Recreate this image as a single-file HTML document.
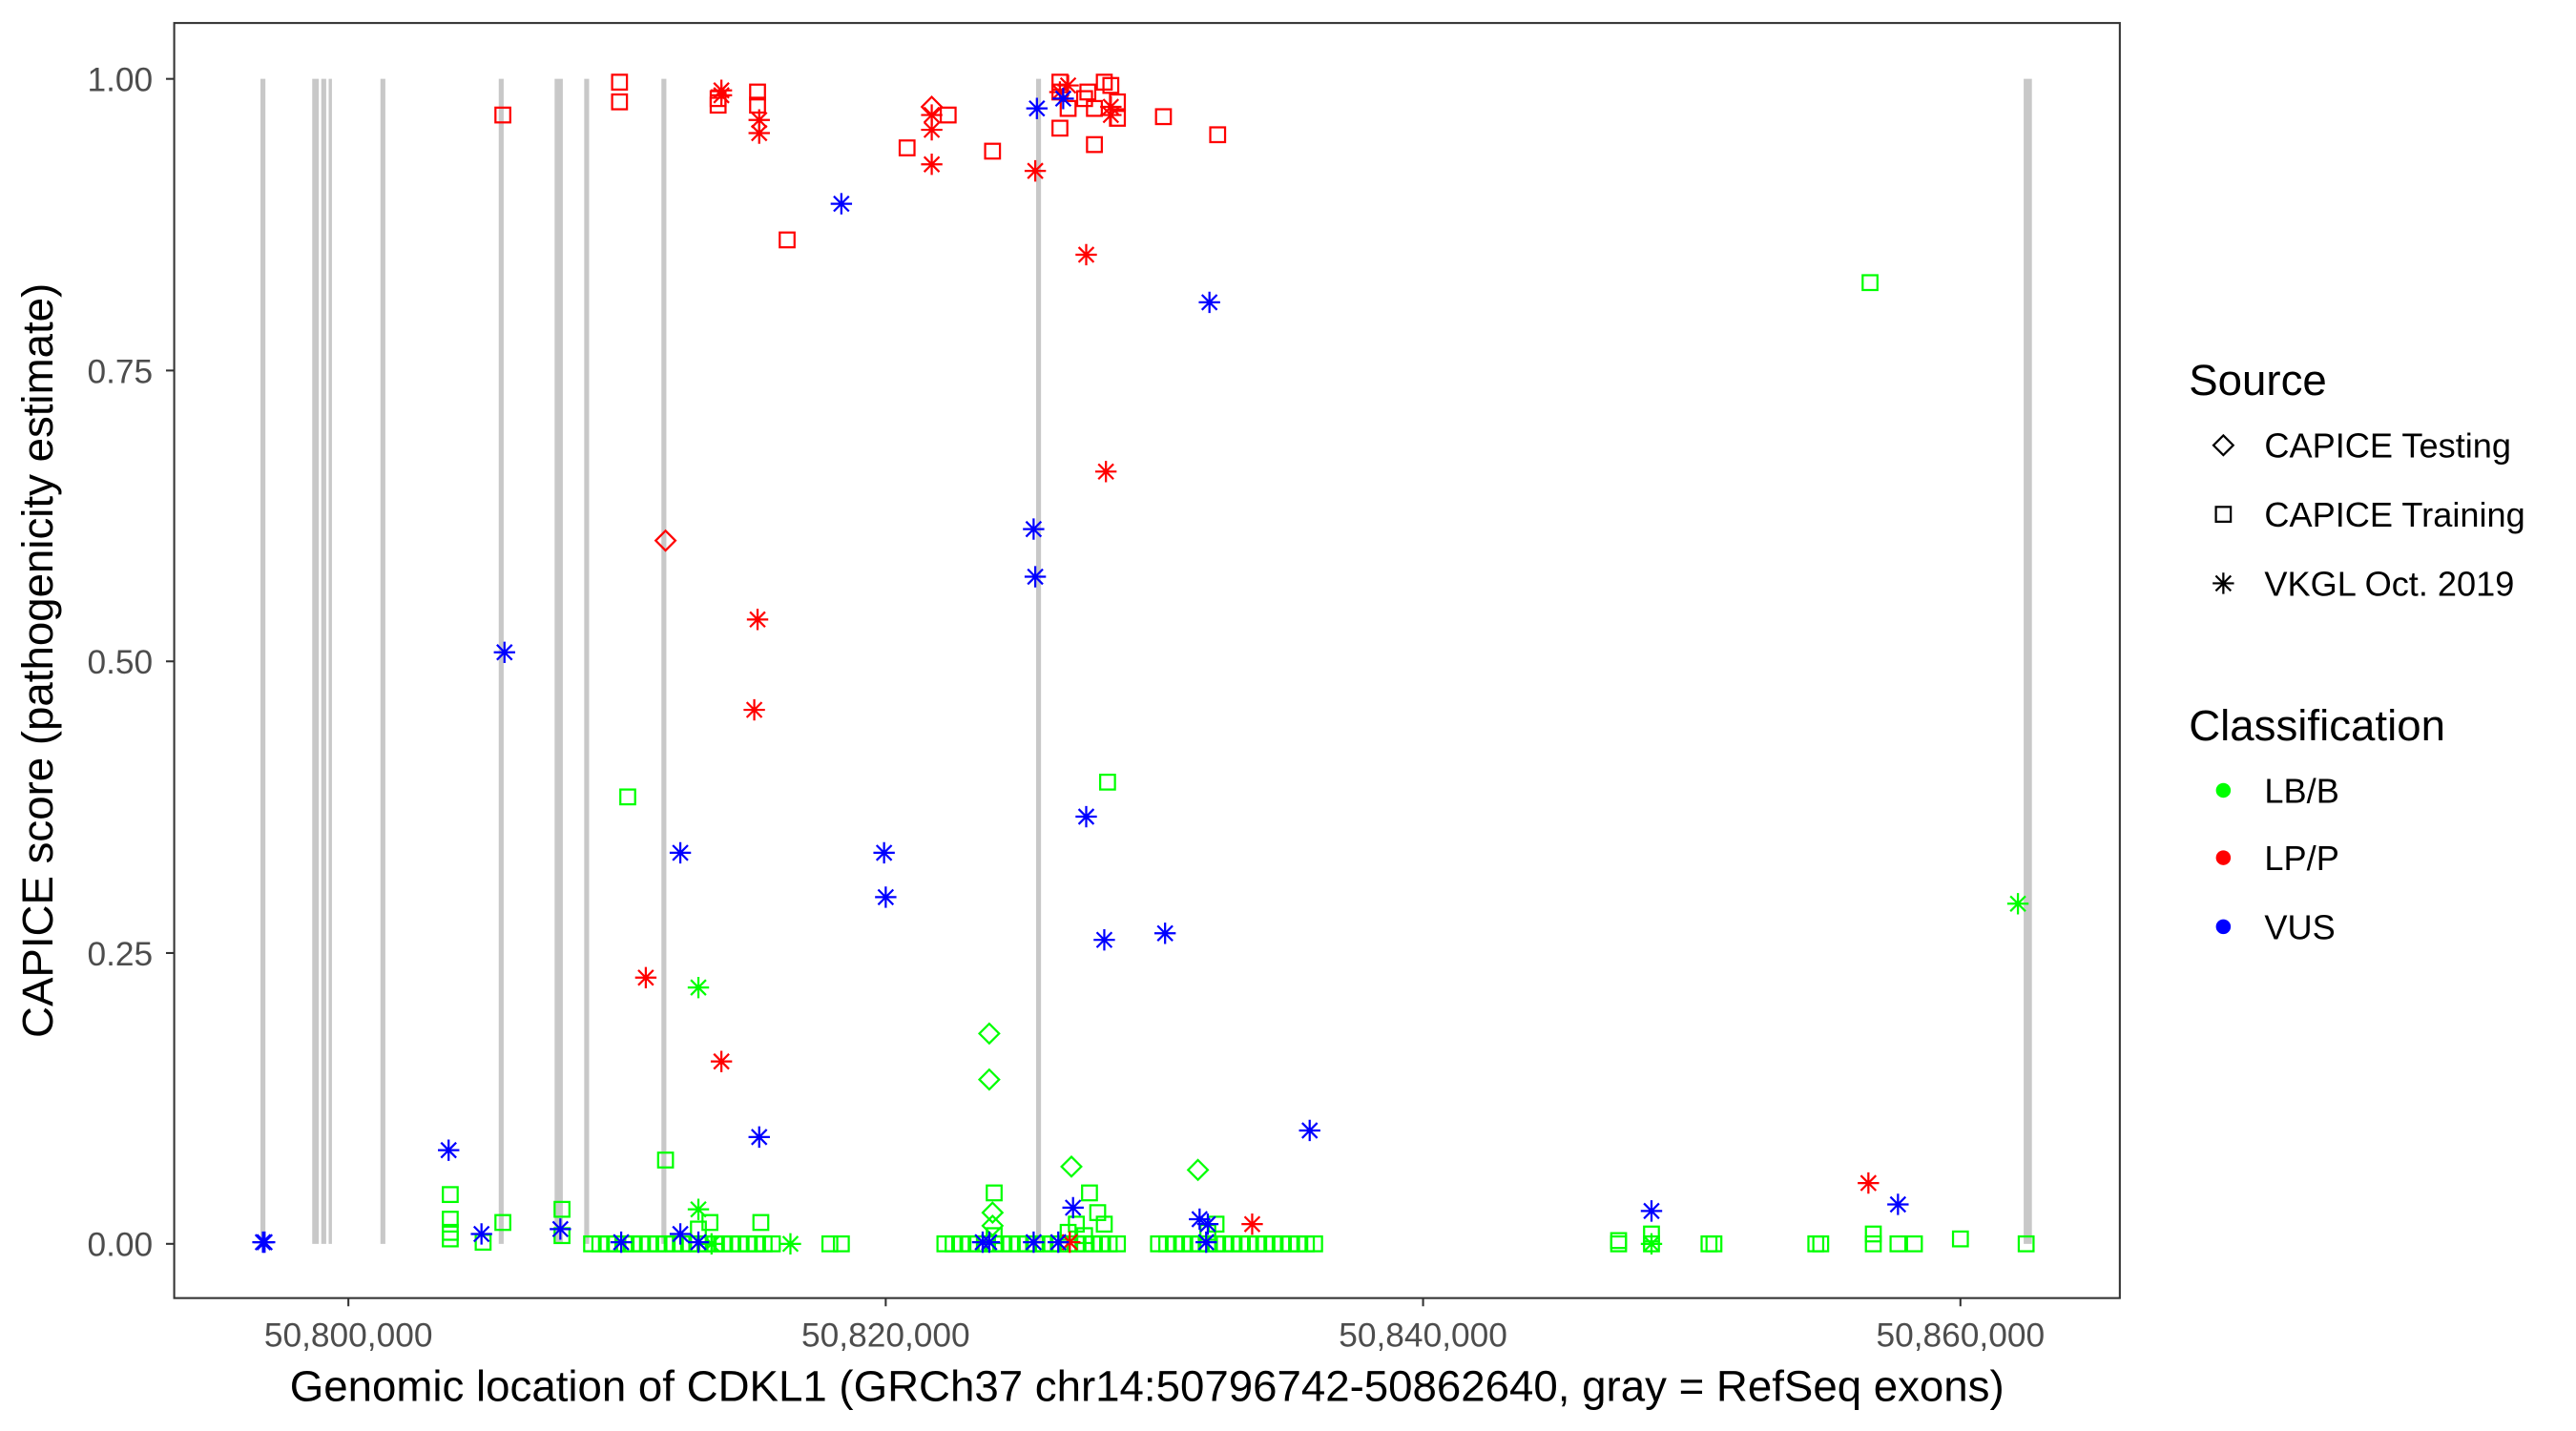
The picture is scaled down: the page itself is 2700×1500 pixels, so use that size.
<!DOCTYPE html>
<html><head><meta charset="utf-8"><style>
html,body{margin:0;padding:0;background:#fff;width:2700px;height:1500px;overflow:hidden}
svg text{font-family:"Liberation Sans",Arial,sans-serif}
</style></head><body>
<svg id="s" width="2700" height="1500" viewBox="0 0 1567.6 870.9" xmlns="http://www.w3.org/2000/svg">
<rect x="0" y="0" width="1600" height="900" fill="#fff"/>
<g id="exons" stroke="#c8c8c8"></g>
<g id="pts" fill="none" stroke-width="1.3"></g>
<rect x="106" y="14" width="1184" height="776" fill="none" stroke="#333" stroke-width="1.2"/>
<g stroke="#333" stroke-width="1.2">
<line x1="101" y1="48" x2="106" y2="48"/><line x1="101" y1="225.5" x2="106" y2="225.5"/>
<line x1="101" y1="402.5" x2="106" y2="402.5"/><line x1="101" y1="580" x2="106" y2="580"/>
<line x1="101" y1="757" x2="106" y2="757"/>
<line x1="212" y1="790" x2="212" y2="795"/><line x1="539" y1="790" x2="539" y2="795"/>
<line x1="866" y1="790" x2="866" y2="795"/><line x1="1193" y1="790" x2="1193" y2="795"/>
</g>
<g font-size="20.5" fill="#4d4d4d" text-anchor="end">
<text x="93" y="55.5">1.00</text><text x="93" y="233">0.75</text><text x="93" y="410">0.50</text>
<text x="93" y="587.5">0.25</text><text x="93" y="764.5">0.00</text>
</g>
<g font-size="20.5" fill="#4d4d4d" text-anchor="middle">
<text x="212" y="819.5">50,800,000</text><text x="539" y="819.5">50,820,000</text>
<text x="866" y="819.5">50,840,000</text><text x="1193" y="819.5">50,860,000</text>
</g>
<text x="698" y="852.5" font-size="26.5" text-anchor="middle" fill="#000">Genomic location of CDKL1 (GRCh37 chr14:50796742-50862640, gray = RefSeq exons)</text>
<text transform="translate(32,402) rotate(-90)" font-size="26.5" text-anchor="middle" fill="#000">CAPICE score (pathogenicity estimate)</text>
<text x="1332" y="240.5" font-size="26.5">Source</text>
<text x="1378" y="278.5" font-size="21">CAPICE Testing</text>
<text x="1378" y="320.5" font-size="21">CAPICE Training</text>
<text x="1378" y="362.5" font-size="21">VKGL Oct. 2019</text>
<text x="1332" y="450.5" font-size="26.5">Classification</text>
<text x="1378" y="488.5" font-size="21">LB/B</text>
<text x="1378" y="529.5" font-size="21">LP/P</text>
<text x="1378" y="571.5" font-size="21">VUS</text>
<circle cx="1353" cy="481" r="4.5" fill="#00ff00"/>
<circle cx="1353" cy="522" r="4.5" fill="#ff0000"/>
<circle cx="1353" cy="564" r="4.5" fill="#0000ff"/>
<g id="leg" fill="none" stroke="#000" stroke-width="1.3"></g>
</svg>
<script>
var NS="http://www.w3.org/2000/svg";
function el(p,t,a){var e=document.createElementNS(NS,t);for(var k in a)e.setAttribute(k,a[k]);p.appendChild(e);return e;}
var ex=document.getElementById('exons');
[[160,3],[192,4],[197,3],[201,2],[233,3],[305,3],[340,5],[357,3],[404,3],[632,3],[1234,5]].forEach(function(e){el(ex,'line',{x1:e[0],x2:e[0],y1:48,y2:757,'stroke-width':e[1]});});
var P=document.getElementById('pts');
function sq(g,x,y,c){el(g,'rect',{x:x-4.5,y:y-4.5,width:9,height:9,stroke:c});}
function di(g,x,y,c){el(g,'path',{d:'M'+x+' '+(y-6)+'L'+(x+6)+' '+y+'L'+x+' '+(y+6)+'L'+(x-6)+' '+y+'Z',stroke:c});}
function as(g,x,y,c){var r=6.5,d='M'+x+' '+(y-r)+'V'+(y+r)+'M'+(x-r)+' '+y+'H'+(x+r)+'M'+(x-4.6)+' '+(y-4.6)+'L'+(x+4.6)+' '+(y+4.6)+'M'+(x-4.6)+' '+(y+4.6)+'L'+(x+4.6)+' '+(y-4.6);el(g,'path',{d:d,stroke:c});}
var G='#00ff00',R='#ff0000',B='#0000ff';
var gx=[];
for(var x=360;x<=470;x+=5)gx.push(x);
gx.push(505,512);
for(x=575;x<=682;x+=5)gx.push(x);
for(x=705;x<=800;x+=5)gx.push(x);
gx.push(985,1005,1040,1043,1105,1108,1140,1155,1165);
gx.forEach(function(x){sq(P,x,757,G);});
[[1138,172],[382,485],[674,476],[405,706],[274,727],[342,736],[605,726],[663,726],[274,742],[274,750],[274,754],[306,744],[294,756],[342,752],[463,744],[432,744],[668,738],[672,745],[1140,751],[1193,754],[1233,757],[1005,751],[985,755],[425,748],[605,752],[650,750],[740,745],[735,750],[655,745],[660,752]].forEach(function(p){sq(P,p[0],p[1],G);});
[[602,629],[602,657],[652,710],[729,712],[604,738],[604,746]].forEach(function(p){di(P,p[0],p[1],G);});
[[1228,550],[425,601],[425,736],[481,757],[1005,757],[433,757]].forEach(function(p){as(P,p[0],p[1],G);});
[[306,70],[377,50],[377,62],[437,60],[437,64],[461,56],[461,64],[552,90],[479,146],[577,70],[604,92],[645,50],[645,56],[645,78],[650,66],[662,56],[666,88],[672,50],[676,52],[680,62],[680,72],[708,71],[741,82],[666,66],[660,60]].forEach(function(p){sq(P,p[0],p[1],R);});
[[567,65],[405,329]].forEach(function(p){di(P,p[0],p[1],R);});
[[439,55],[439,58],[462,73],[462,81],[567,70],[567,79],[567,100],[630,104],[661,155],[673,287],[461,377],[459,432],[393,595],[439,646],[762,745],[1137,720],[651,756],[645,56],[650,52],[676,65],[676,70]].forEach(function(p){as(P,p[0],p[1],R);});
[[631,66],[647,60],[512,124],[736,184],[629,322],[630,351],[307,397],[414,519],[538,519],[539,546],[661,497],[672,572],[709,568],[273,700],[462,692],[797,688],[1005,737],[1155,733],[160,756],[293,751],[341,748],[378,756],[414,751],[598,756],[602,756],[629,756],[644,756],[653,735],[730,742],[734,756],[735,745],[425,756],[161,756]].forEach(function(p){as(P,p[0],p[1],B);});
var L=document.getElementById('leg');
di(L,1353,271,'#000');sq(L,1353,313,'#000');as(L,1353,355,'#000');
</script>
</body></html>
